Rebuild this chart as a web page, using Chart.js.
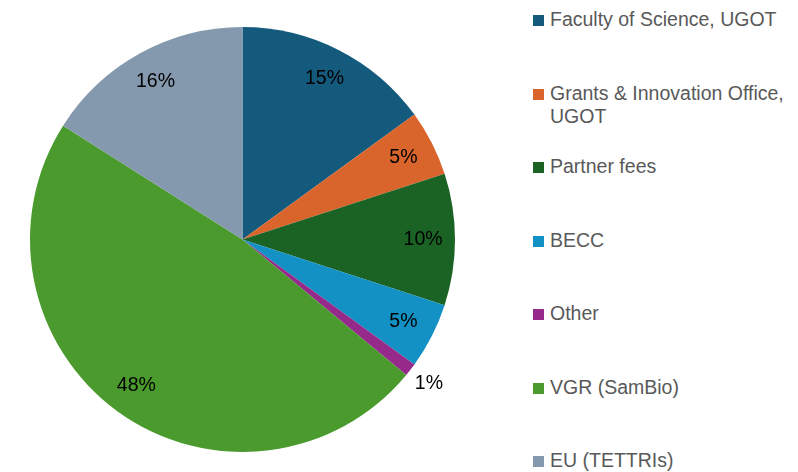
<!DOCTYPE html>
<html>
<head>
<meta charset="utf-8">
<script src="https://cdn.jsdelivr.net/npm/chart.js@4"></script>
<style>
  html, body { margin: 0; padding: 0; background: #fff; }
  #wrap { position: relative; width: 798px; height: 472px; overflow: hidden; }
  #chartBox { position: absolute; left: 0; top: 0; width: 485px; height: 472px; }
  #legend { position: absolute; left: 533px; top: 0; width: 265px; height: 472px;
            font-family: "Liberation Sans", Arial, sans-serif; font-size: 19.5px; color: #595959; }
  .item { position: absolute; left: 0; display: flex; align-items: flex-start; line-height: 23px; }
  .box { width: 11px; height: 11px; margin-top: 7px; margin-right: 6px; flex: none; }
  .txt { width: 240px; }
</style>
</head>
<body>
<div id="wrap">
  <div id="chartBox"><canvas id="pieChart" width="485" height="472"></canvas></div>
  <div id="legend"></div>
</div>
<script>
// funding sources (clockwise from 12 o'clock)
const labels = [
  "Faculty of Science, UGOT",
  "Grants & Innovation Office, UGOT",
  "Partner fees",
  "BECC",
  "Other",
  "VGR (SamBio)",
  "EU (TETTRIs)"
];
const shares = [15, 5, 10, 5, 1, 48, 16];
const colors = ["#135a7c", "#d9652d", "#1a6325", "#1390c4", "#952a8a", "#4a9a2e", "#8498ae"];

// percent labels drawn on / next to the slices
const sliceLabels = {
  id: "sliceLabels",
  afterDatasetsDraw(chart) {
    const ctx = chart.ctx;
    const meta = chart.getDatasetMeta(0);
    ctx.save();
    ctx.font = '19.5px "Liberation Sans", Arial, sans-serif';
    ctx.fillStyle = "#000";
    ctx.textAlign = "center";
    ctx.textBaseline = "middle";
    meta.data.forEach((arc, i) => {
      const p = arc.getProps(["x", "y", "startAngle", "endAngle", "outerRadius"], true);
      const mid = (p.startAngle + p.endAngle) / 2;
      const r = shares[i] < 3 ? p.outerRadius * 1.11 : p.outerRadius * 0.85;
      ctx.fillText(shares[i] + "%", p.x + Math.cos(mid) * r, p.y + Math.sin(mid) * r);
    });
    ctx.restore();
  }
};

new Chart(document.getElementById("pieChart").getContext("2d"), {
  type: "pie",
  data: {
    labels: labels,
    datasets: [{
      data: shares,
      backgroundColor: colors,
      borderWidth: 0
    }]
  },
  options: {
    responsive: false,
    animation: false,
    layout: { padding: { left: 30, right: 30, top: 27, bottom: 20 } },
    plugins: {
      legend: { display: false },
      tooltip: { enabled: false }
    }
  },
  plugins: [sliceLabels]
});

// legend on the right
const legend = document.getElementById("legend");
labels.forEach((name, i) => {
  const item = document.createElement("div");
  item.className = "item";
  item.style.top = (8 + i * 73.5) + "px";
  item.innerHTML = `<span class="box" style="background:${colors[i]}"></span><span class="txt"></span>`;
  item.querySelector(".txt").textContent = name;
  legend.appendChild(item);
});
</script>
</body>
</html>
